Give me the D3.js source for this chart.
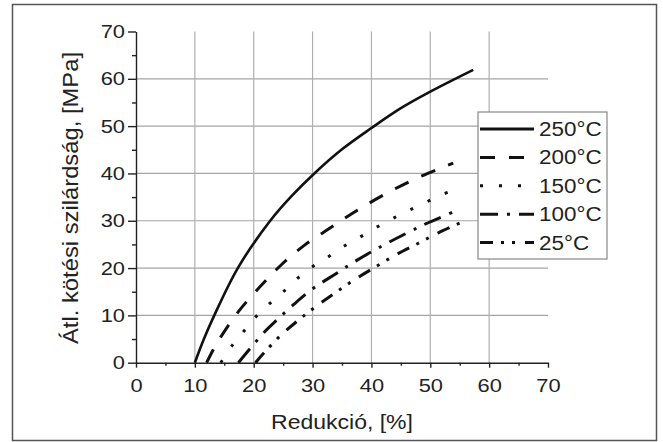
<!DOCTYPE html>
<html><head><meta charset="utf-8">
<script src="https://cdnjs.cloudflare.com/ajax/libs/d3/7.8.5/d3.min.js"></script>
<style>html,body{margin:0;padding:0;background:#fff}svg{display:block}text{font-family:"Liberation Sans",Arial,sans-serif;fill:#222}</style>
</head><body>
<script>
const xTicks = [0,10,20,30,40,50,60,70];
const yTicks = [0,10,20,30,40,50,60,70];
const seriesNames = ["250°C","200°C","150°C","100°C","25°C"];
const s250 = [[10,0],[11.5,4.9],[13.3,10],[17.3,20],[22.8,30],[26.5,35.3],[30.3,40],[35,45.1],[40,49.6],[45,53.8],[50,57.3],[57.3,61.9]];
const s200 = [[12,0],[13.1,2.7],[14.8,6.2],[17.4,10.8],[21.1,16.1],[24.7,20.7],[28.7,24.9],[32.9,28.4],[37.2,31.9],[41.7,35.2],[46.5,38.3],[51.3,40.9],[53.9,42.2]];
const s150 = [[14.4,0],[16.5,3.9],[18.5,6.9],[20.5,9.9],[22.9,12.7],[25.2,15.2],[27.6,18],[30.1,20.4],[32.7,22.4],[35.2,24.5],[38,26.5],[40.7,28.5],[43.5,30.4],[46.2,32.1],[49.1,33.8],[51.9,35.5],[54.7,36.7]];
const s100 = [[17.4,0],[19.4,3.0],[21.9,6.6],[23.9,9.0],[26.7,12.2],[30.1,15.7],[34.1,18.9],[37.2,21.4],[41.4,24.4],[45.7,27.2],[48.8,29.1],[51.6,30.6],[53.8,31.8]];
const s25 = [[20.3,0],[21.9,2.3],[24.7,5.9],[27.8,9.2],[30.7,12.0],[34.1,15],[37.2,17.6],[40.9,20.4],[44.3,22.9],[47.9,25.2],[51.3,27.4],[55,29.5]];
const seriesData = [s250,s200,s150,s100,s25];
const dashes = [null,"15,14","3,16","18,9,3,9","13,8,3,8,3,10"];

const W=663,H=442;
const svg=d3.select("body").append("svg").attr("width",W).attr("height",H);
svg.append("rect").attr("width",W).attr("height",H).attr("fill","#fff");
svg.append("rect").attr("x",12.5).attr("y",4.5).attr("width",644).attr("height",436)
  .attr("fill","none").attr("stroke","#555").attr("stroke-width",1.5);

const x=d3.scaleLinear().domain([0,70]).range([136,548]);
const y=d3.scaleLinear().domain([0,70]).range([362.7,31.5]);

function stretch(sel,f){sel.each(function(){const n=this.getComputedTextLength();d3.select(this).attr("textLength",n*f).attr("lengthAdjust","spacingAndGlyphs");});}

// grid
const g=svg.append("g");
g.selectAll(".hg").data(yTicks.filter(d=>d>0&&d<70)).enter().append("line")
  .attr("x1",x(0)).attr("x2",x(70)).attr("y1",d=>y(d)).attr("y2",d=>y(d))
  .attr("stroke","#a5a5a5").attr("stroke-width",1.2);
g.selectAll(".vg").data(xTicks.filter(d=>d>0&&d<70)).enter().append("line")
  .attr("y1",y(0)).attr("y2",y(70)).attr("x1",d=>x(d)).attr("x2",d=>x(d))
  .attr("stroke","#b0b0b0").attr("stroke-width",1.2);

// axes
const minor=d3.range(5,70,10);
const xa=svg.append("g").attr("transform",`translate(0,${y(0)})`)
  .call(d3.axisBottom(x).tickValues(xTicks).tickSize(5).tickSizeOuter(0).tickPadding(7));
svg.append("g").attr("transform",`translate(0,${y(0)})`)
  .call(d3.axisBottom(x).tickValues(minor).tickSize(3).tickFormat(""))
  .call(s=>s.select(".domain").remove());
const ya=svg.append("g").attr("transform",`translate(${x(0)},0)`)
  .call(d3.axisLeft(y).tickValues(yTicks).tickSize(8).tickSizeOuter(0).tickPadding(3));
svg.append("g").attr("transform",`translate(${x(0)},0)`)
  .call(d3.axisLeft(y).tickValues(minor).tickSize(4).tickFormat(""))
  .call(s=>s.select(".domain").remove());
svg.selectAll(".domain,.tick line").attr("stroke","#222").attr("stroke-width",1.4);
svg.selectAll(".tick text").attr("font-size",19).attr("fill","#222")
  .style("font-family",'"Liberation Sans",Arial,sans-serif');
xa.selectAll(".tick text").attr("dy","0.9em");
svg.selectAll(".tick text").call(stretch,1.15);

// labels
svg.append("text").attr("x",342).attr("y",429).attr("text-anchor","middle").attr("font-size",20)
  .text("Redukció, [%]").call(stretch,1.15);
svg.append("text").attr("transform","translate(78,198) rotate(-90)").attr("text-anchor","middle")
  .attr("font-size",21.5).text("Átl. kötési szilárdság, [MPa]")
  .attr("textLength",292).attr("lengthAdjust","spacingAndGlyphs");

// curves
const line=d3.line().x(d=>x(d[0])).y(d=>y(d[1])).curve(d3.curveCatmullRom.alpha(0.5));
seriesData.forEach((s,i)=>{
  svg.append("path").attr("d",line(s)).attr("fill","none").attr("stroke","#111")
    .attr("stroke-width",i===0?2.6:3).attr("stroke-dasharray",dashes[i]);
});

// legend
const lg=svg.append("g");
lg.append("rect").attr("x",478).attr("y",112).attr("width",129).attr("height",147)
  .attr("fill","#fff").attr("stroke","#888").attr("stroke-width",1.2);
seriesNames.forEach((n,i)=>{
  const cy=129+i*28.4;
  lg.append("line").attr("x1",480).attr("x2",534).attr("y1",cy).attr("y2",cy)
    .attr("stroke","#111").attr("stroke-width",3).attr("stroke-dasharray",dashes[i]);
  lg.append("text").attr("x",539).attr("y",cy).attr("dy","0.36em").attr("font-size",19.5)
    .text(n).call(stretch,1.15);
});
</script>
</body></html>
